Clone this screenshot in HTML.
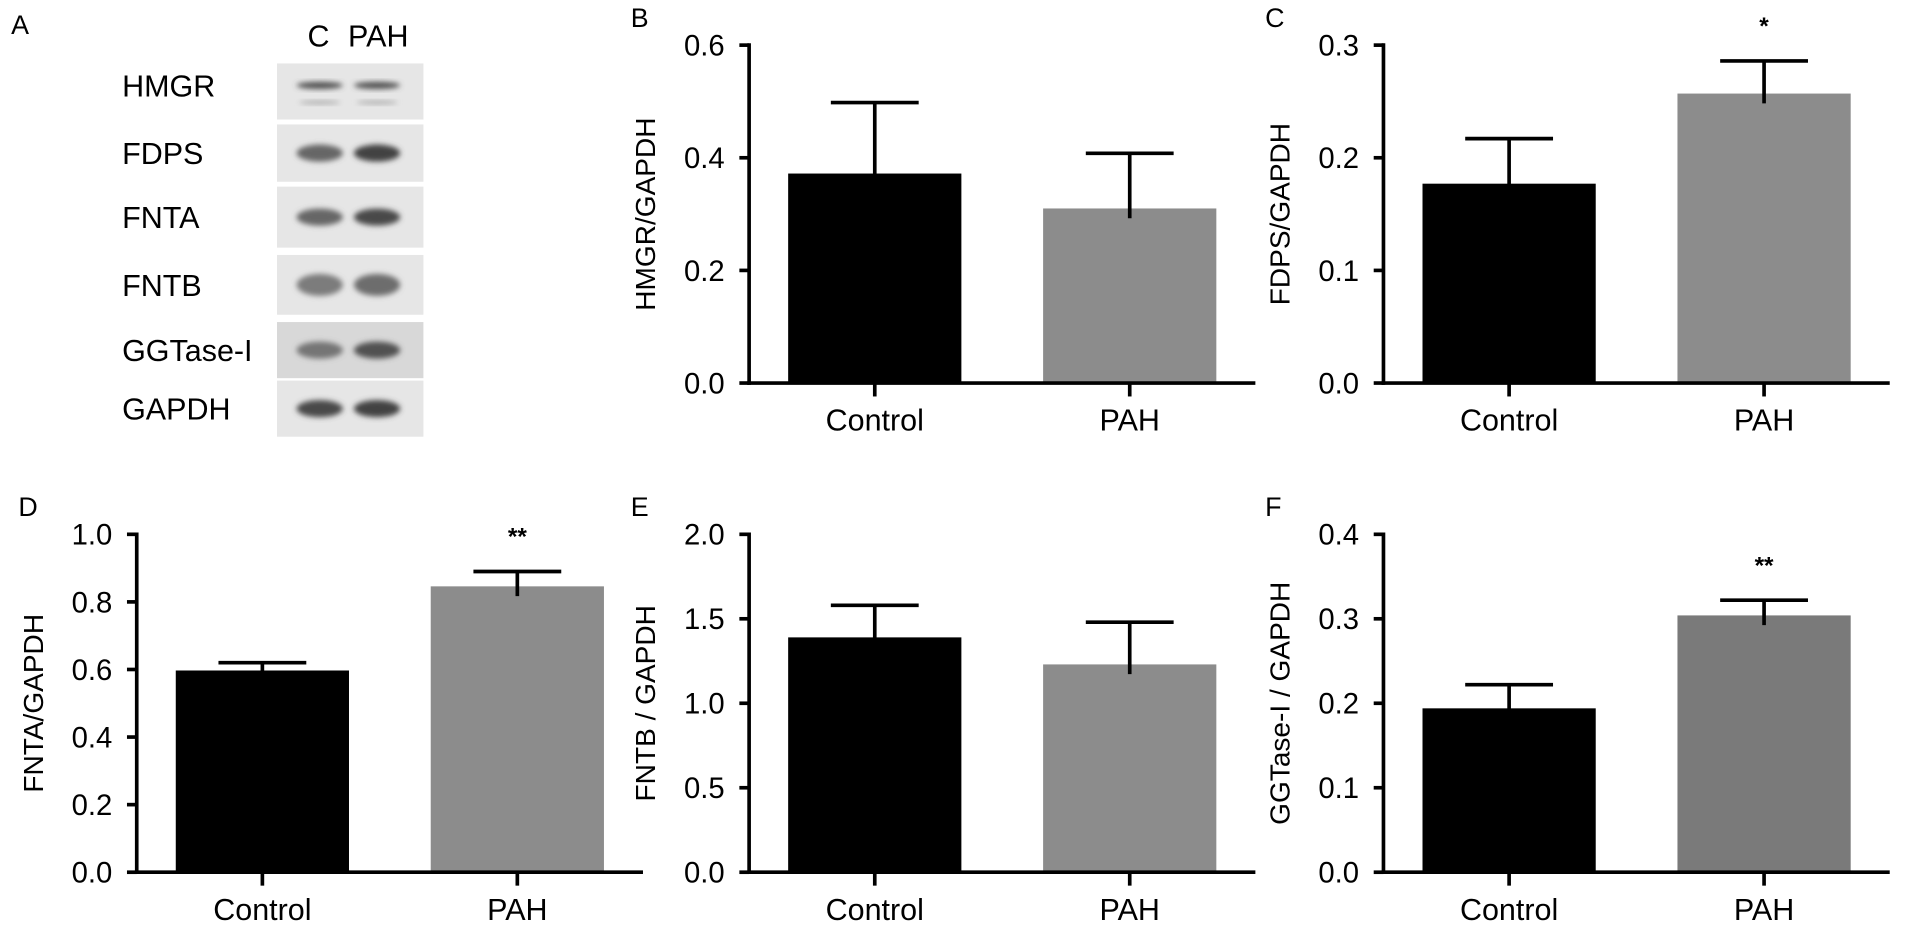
<!DOCTYPE html>
<html><head><meta charset="utf-8"><style>
html,body{margin:0;padding:0;background:#fff;}
svg{display:block;font-family:"Liberation Sans",Arial,sans-serif;}
</style></head><body>
<svg id="fig" width="1913" height="932" viewBox="0 0 1568 764" xmlns="http://www.w3.org/2000/svg">
<defs>
<filter id="blur" x="-20%" y="-50%" width="140%" height="200%"><feGaussianBlur stdDeviation="2.2"/></filter>
</defs>
<g id="blot">
<text x="9" y="28" font-size="22">A</text>
<text x="261" y="38" font-size="25" text-anchor="middle">C</text>
<text x="310" y="38" font-size="25" text-anchor="middle">PAH</text>
</g>
<g id="charts"></g>
</svg>
<script>
const NS='http://www.w3.org/2000/svg';
function mk(parent,tag,attrs,text){const e=document.createElementNS(NS,tag);for(const k in attrs)e.setAttribute(k,attrs[k]);if(text!==undefined)e.textContent=text;parent.appendChild(e);return e;}

// Western blot rows
const blotLabels=['HMGR','FDPS','FNTA','FNTB','GGTase-I','GAPDH'];
const blotTop=[52,102,153,209,264,312];
const blotBot=[98,149,203,258,310,358];
const bandC=[0.85,0.7,0.7,0.55,0.6,0.9];
const bandP=[0.85,0.95,0.9,0.65,0.85,0.95];
const blot=document.getElementById('blot');
blotLabels.forEach((lab,i)=>{
  const g=mk(blot,'g',{});
  
  
  mk(g,'rect',{x:227,y:blotTop[i],width:120,height:blotBot[i]-blotTop[i],fill:i==4?'#d8d8d8':'#e6e6e6'});
  const cy=(blotTop[i]+blotBot[i])/2-(i==0?5:0);
  const h=i==0?3:(i==3?9:7);
  [[262,bandC[i]],[309,bandP[i]]].forEach(([cx,s])=>{
    const v=Math.round(60+(1-s)*140);
    mk(g,'ellipse',{cx:cx,cy:cy,rx:19,ry:h,fill:`rgb(${v},${v},${v})`,filter:'url(#blur)'});
  });
  if(i==0){[262,309].forEach(cx=>mk(g,'ellipse',{cx:cx,cy:cy+14,rx:17,ry:1.5,fill:'#aaa',filter:'url(#blur)'}));}
  const t=mk(blot,'text',{x:100,y:cy+9,'font-size':25},lab);
  
  
});

// Chart data
const categories=['Control','PAH'];
const bMeans=[0.372,0.31]; const bErr=[0.498,0.408]; const bTicks=['0.0','0.2','0.4','0.6'];
const cMeans=[0.177,0.257]; const cErr=[0.217,0.286]; const cTicks=['0.0','0.1','0.2','0.3'];
const dMeans=[0.597,0.846]; const dErr=[0.62,0.89]; const dTicks=['0.0','0.2','0.4','0.6','0.8','1.0'];
const eMeans=[1.39,1.23]; const eErr=[1.58,1.48]; const eTicks=['0.0','0.5','1.0','1.5','2.0'];
const fMeans=[0.194,0.304]; const fErr=[0.222,0.322]; const fTicks=['0.0','0.1','0.2','0.3','0.4'];

const panels=[
 {id:'b',letter:'B',ax:614,top:37,base:314,means:bMeans,err:bErr,ticks:bTicks,title:'HMGR/GAPDH',pah:'#8c8c8c',star:''},
 {id:'c',letter:'C',ax:1134,top:37,base:314,means:cMeans,err:cErr,ticks:cTicks,title:'FDPS/GAPDH',pah:'#8c8c8c',star:'*'},
 {id:'d',letter:'D',ax:112,top:438,base:715,means:dMeans,err:dErr,ticks:dTicks,title:'FNTA/GAPDH',pah:'#8c8c8c',star:'**'},
 {id:'e',letter:'E',ax:614,top:438,base:715,means:eMeans,err:eErr,ticks:eTicks,title:'FNTB / GAPDH',pah:'#8c8c8c',star:''},
 {id:'f',letter:'F',ax:1134,top:438,base:715,means:fMeans,err:fErr,ticks:fTicks,title:'GGTase-I / GAPDH',pah:'#7a7a7a',star:'**'}
];
const charts=document.getElementById('charts');
panels.forEach(p=>{
  const g=mk(charts,'g',{});
  
  
  const max=parseFloat(p.ticks[p.ticks.length-1]);
  const y=v=>p.base-(v/max)*(p.base-p.top);
  const xs=[p.ax+103,p.ax+312];
  const bw=142;
  const lt=mk(g,'text',{x:p.ax-97,y:p.top-15,'font-size':22},p.letter);
  
  
  categories.forEach((c,i)=>{
    const r=mk(g,'rect',{x:xs[i]-bw/2,y:y(p.means[i]),width:bw,height:p.base-y(p.means[i]),fill:i==0?'#000':p.pah});
    
    
    const eb=mk(g,'path',{d:`M${xs[i]} ${y(p.means[i])+8} V${y(p.err[i])} M${xs[i]-36} ${y(p.err[i])} H${xs[i]+36}`,stroke:'#000','stroke-width':3,fill:'none'});
    
    
    const xl=mk(g,'text',{x:xs[i],y:p.base+39,'font-size':25,'text-anchor':'middle'},c);
    
    
    mk(g,'line',{x1:xs[i],x2:xs[i],y1:p.base,y2:p.base+11,stroke:'#000','stroke-width':3});
  });
  if(p.star){
    const s=mk(g,'text',{x:xs[1],y:y(p.err[1])-22,'font-size':20,'font-weight':'bold','text-anchor':'middle'},p.star);
    
    
  }
  const ya=mk(g,'line',{x1:p.ax,x2:p.ax,y1:p.top-1.5,y2:p.base+1.5,stroke:'#000','stroke-width':3});
  
  
  const xa=mk(g,'line',{x1:p.ax-1.5,x2:p.ax+415,y1:p.base,y2:p.base,stroke:'#000','stroke-width':3});
  
  
  p.ticks.forEach(t=>{
    const v=parseFloat(t);
    mk(g,'line',{x1:p.ax-8,x2:p.ax,y1:y(v),y2:y(v),stroke:'#000','stroke-width':3});
    const tl=mk(g,'text',{x:p.ax-20,y:y(v)+8.5,'font-size':24,'text-anchor':'end'},t);
    
    
  });
  const cy=(p.top+p.base)/2;
  const yt=mk(g,'text',{x:p.ax-77,y:cy,'font-size':23,'text-anchor':'middle',transform:`rotate(-90 ${p.ax-77} ${cy})`},p.title);
  
  
});
</script>
</body></html>
